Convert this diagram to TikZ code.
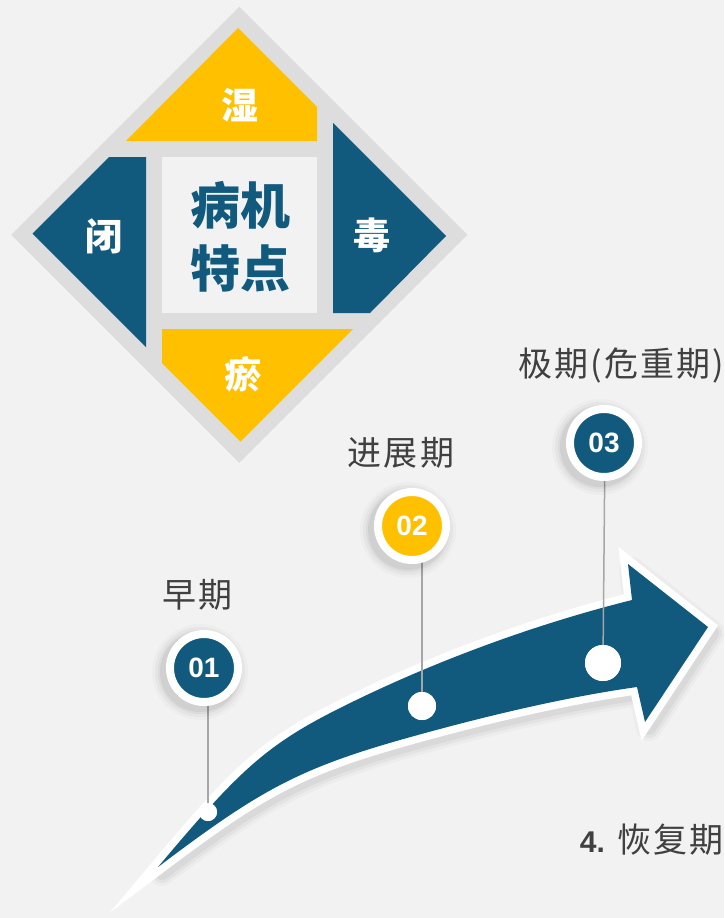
\documentclass[tikz,border=0pt]{standalone}
\usepackage{fontspec}
\setmainfont{Liberation Sans}
\newfontfamily\cjk{Noto Sans CJK SC}
\newfontfamily\cjkls[LetterSpace=6]{Noto Sans CJK SC}
\newfontfamily\digitfont{Liberation Sans}
\definecolor{bgc}{HTML}{F2F2F2}
\definecolor{dgray}{HTML}{DDDDDD}
\definecolor{dblue}{HTML}{115A7E}
\definecolor{gold}{HTML}{FFC000}
\definecolor{lblgray}{HTML}{404040}
\definecolor{stemgray}{HTML}{A6A6A6}
\def\myArrowPath{(158,867) .. controls (238,771.8) and (265,745.5) .. (340,708)
  .. controls (430,663) and (532,625) .. (632,600)
  -- (628,564) -- (708,627) -- (645,722) -- (637,687)
  .. controls (567,696.8) and (487,715.6) .. (407,738)
  .. controls (297,768.8) and (258,791.5) .. (158,867) -- cycle}
\newcommand\pinshade[1]{%
  \foreach \rr/\oo in {48/0.02,45/0.03,42/0.04,40/0.05}{\fill[black,opacity=\oo] #1 circle[radius=\rr pt];}}
\begin{document}
\begin{tikzpicture}[x=1pt,y=-1pt,
  dtext/.style={text=white,font=\cjk\bfseries\fontsize{37}{37}\selectfont,inner sep=0pt},
  ctext/.style={text=dblue,font=\cjk\bfseries\fontsize{50}{50}\selectfont,inner sep=0pt},
  stage/.style={text=lblgray,font=\cjkls\fontsize{34}{34}\selectfont,inner sep=0pt},
  pin/.style={circle,draw=white,line width=8pt,minimum size=68pt,inner sep=0pt,text=white,
    font=\digitfont\bfseries\fontsize{28}{28}\selectfont},
  dotnode/.style={circle,fill=white,inner sep=0pt,draw=none},
  stem/.style={draw=stemgray,line width=1.5pt}]
\useasboundingbox (0,0) rectangle (724,918);
\fill[bgc] (0,0) rectangle (724,918);
% diamond
\fill[dgray] (239.25,6.75) -- (467.25,234.75) -- (239.25,462.75) -- (11.25,234.75) -- cycle;
\fill[gold] (238,28) -- (317,107) -- (317,141) -- (126,141) -- cycle;
\fill[dblue] (333,123) -- (446,236) -- (370,313) -- (333,313) -- cycle;
\fill[dblue] (146,157) -- (109,157) -- (32.5,233.5) -- (146,347) -- cycle;
\fill[gold] (162,329) -- (353,329) -- (240.5,441.5) -- (162,363) -- cycle;
\fill[bgc] (162,157) rectangle (317,313);
\node[dtext] (shi) at (240,105) {湿};
\node[dtext] (bi) at (104,236) {闭};
\node[dtext] (du) at (372,235) {毒};
\node[dtext] (yu) at (243,374) {瘀};
\node[ctext] (title1) at (240,205) {病机};
\node[ctext] (title2) at (240,268) {特点};
% arrow shadow
\begin{scope}[shift={(4,6)}]
  \foreach \ww/\oo in {26/0.025,20/0.035,14/0.045}{
    \draw[black,opacity=\oo,line width=\ww pt,line join=round] \myArrowPath;}
\end{scope}
% arrow
\draw[white,line width=15pt,line join=miter,miter limit=12] \myArrowPath;
\fill[dblue] \myArrowPath;
% dots and stems
\node[dotnode,minimum size=18pt] (d1) at (208,812) {};
\node[dotnode,minimum size=28pt] (d2) at (422,706) {};
\node[dotnode,minimum size=36pt] (d3) at (603,663) {};
\draw[stem] (d1.center) -- (208,668);
\draw[stem] (d2.center) -- (422,526);
\draw[stem] (d3.center) -- (605,443);
\node[dotnode,minimum size=18pt] at (d1) {};
\node[dotnode,minimum size=28pt] at (d2) {};
\node[dotnode,minimum size=36pt] at (d3) {};
% pins
\pinshade{(200,672)}
\pinshade{(408,530)}
\pinshade{(600,447)}
\node[pin,fill=dblue] (c1) at (204,668) {01};
\node[pin,fill=gold] (c2) at (412,526) {02};
\node[pin,fill=dblue] (c3) at (604,443) {03};
% labels
\node[stage] (l1) at (198,595) {早期};
\node[stage] (l2) at (401,453) {进展期};
\node[stage,anchor=east] (l3) at (724,366) {极期(危重期)};
\node[stage,anchor=east] (l4) at (724,840) {{\digitfont\bfseries\fontsize{30}{30}\selectfont 4.} 恢复期};
\end{tikzpicture}
\end{document}
